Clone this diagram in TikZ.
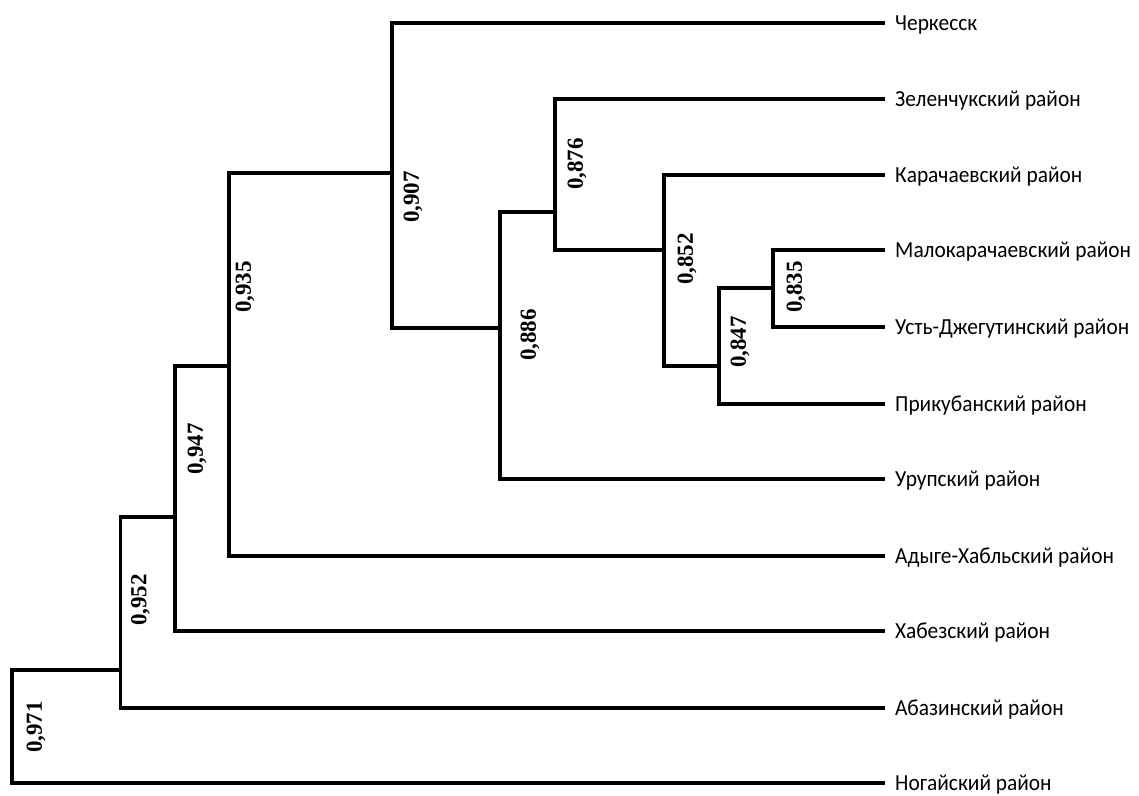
\documentclass[tikz,border=0pt]{standalone}
\usepackage{fontspec}
\usepackage{graphicx}
\setmainfont{Carlito}
\newfontfamily\numfont{Liberation Serif}
\newcommand\leaftext[1]{\scalebox{0.93}[1]{#1}}
\begin{document}
\begin{tikzpicture}[x=1pt,y=-1pt,
  br/.style={line width=3.2pt, line join=miter, line cap=rect},
  leaf/.style={anchor=base west, inner sep=0pt, font=\fontsize{23}{27}\selectfont},
  val/.style={rotate=90, inner sep=0pt, font=\numfont\bfseries\fontsize{23}{27}\selectfont}]
\useasboundingbox (0,0) rectangle (1139,795);
% leaf ends
\coordinate (e0) at (883,23);
\coordinate (e1) at (883,99);
\coordinate (e2) at (883,175);
\coordinate (e3) at (883,250);
\coordinate (e4) at (883,327);
\coordinate (e5) at (883,404);
\coordinate (e6) at (883,479);
\coordinate (e7) at (883,556);
\coordinate (e8) at (883,631);
\coordinate (e9) at (883,708);
\coordinate (e10) at (883,783);
% leaf names
\node[leaf] (l0) at ([xshift=12pt,yshift=-7.5pt]e0) {\leaftext{Черкесск}};
\node[leaf] (l1) at ([xshift=12pt,yshift=-7.5pt]e1) {\leaftext{Зеленчукский район}};
\node[leaf] (l2) at ([xshift=12pt,yshift=-7.5pt]e2) {\leaftext{Карачаевский район}};
\node[leaf] (l3) at ([xshift=12pt,yshift=-7.5pt]e3) {\leaftext{Малокарачаевский район}};
\node[leaf] (l4) at ([xshift=12pt,yshift=-7.5pt]e4) {\leaftext{Усть-Джегутинский район}};
\node[leaf] (l5) at ([xshift=12pt,yshift=-7.5pt]e5) {\leaftext{Прикубанский район}};
\node[leaf] (l6) at ([xshift=12pt,yshift=-7.5pt]e6) {\leaftext{Урупский район}};
\node[leaf] (l7) at ([xshift=12pt,yshift=-7.5pt]e7) {\leaftext{Адыге-Хабльский район}};
\node[leaf] (l8) at ([xshift=12pt,yshift=-7.5pt]e8) {\leaftext{Хабезский район}};
\node[leaf] (l9) at ([xshift=12pt,yshift=-7.5pt]e9) {\leaftext{Абазинский район}};
\node[leaf] (l10) at ([xshift=12pt,yshift=-7.5pt]e10) {\leaftext{Ногайский район}};
% internal joins
\coordinate (n835) at (773,288);
\coordinate (n847) at (719,366);
\coordinate (n852) at (664,250);
\coordinate (n876) at (555,212);
\coordinate (n886) at (500,328);
\coordinate (n907) at (392,173);
\coordinate (n935) at (229,366);
\coordinate (n947) at (175,517);
\coordinate (n952) at (120.5,670);
\coordinate (n971) at (12,726);
% brackets
\draw[br] (e3) -| (n835) |- (e4);
\draw[br] (n835) -| (n847) |- (e5);
\draw[br] (e2) -| (n852) |- (n847);
\draw[br] (e1) -| (n876) |- (n852);
\draw[br] (n876) -| (n886) |- (e6);
\draw[br] (e0) -| (n907) |- (n886);
\draw[br] (n907) -| (n935) |- (e7);
\draw[br] (n935) -| (n947) |- (e8);
\draw[br] (n947) -| (n952) |- (e9);
\draw[br] (n952) -| (n971) |- (e10);
% values
\node[val] (v907) at (413,197) {0,907};
\node[val] (v935) at (245,287) {0,935};
\node[val] (v876) at (577,164) {0,876};
\node[val] (v886) at (530,335) {0,886};
\node[val] (v947) at (197,449) {0,947};
\node[val] (v952) at (140.5,600) {0,952};
\node[val] (v971) at (36,727) {0,971};
\node[val] (v852) at (687,259) {0,852};
\node[val] (v847) at (740,342) {0,847};
\node[val] (v835) at (796,287) {0,835};
\end{tikzpicture}
\end{document}
